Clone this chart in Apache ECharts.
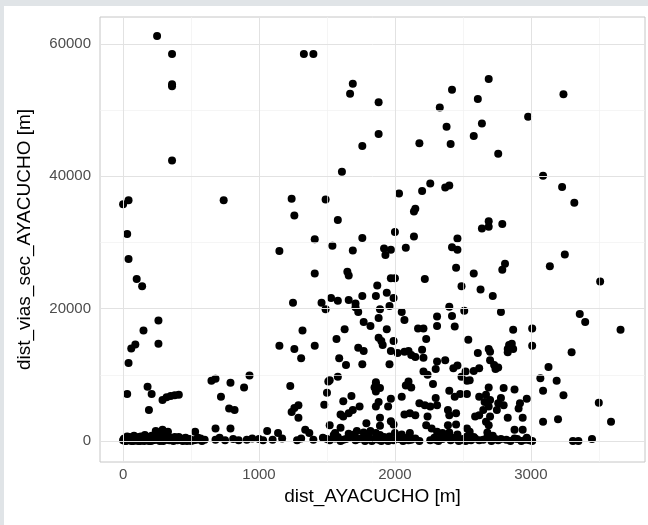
<!DOCTYPE html>
<html><head><meta charset="utf-8">
<script src="https://cdn.jsdelivr.net/npm/echarts@6/dist/echarts.min.js"></script>
<style>
html,body{margin:0;padding:0;background:#e0e4e7;width:648px;height:525px;overflow:hidden}
#chart{position:absolute;left:4px;top:6px;width:644px;height:519px;background:#fff}
</style></head><body><div id="chart"></div>
<script>
const xTicks = [0, 1000, 2000, 3000];
const xMinor = [500, 1500, 2500, 3500];
const yTicks = [0, 20000, 40000, 60000];
const yMinor = [10000, 30000, 50000];

const ptsUnder1000 = [
[250,61200],[360,58500],[360,53900],[360,53600],[360,42400],[0,35800],[40,36400],[740,36400],[30,31300],[40,27500],
[100,24500],[140,23400],[260,18200],[150,16700],[60,14000],[90,14600],[260,14700],[40,11800],[30,7100],[180,8200],
[210,7100],[190,4700],[290,6200],[320,6600],[350,6800],[380,6900],[410,7000],[650,9100],[680,9400],[790,8800],
[930,9900],[890,8100],[720,6700],[780,4900],[820,4700],[680,1900],[790,1900],[530,1400],[240,1500],[290,1700],[330,1400],
[0,100],[10,400],[20,0],[30,700],[40,200],[50,500],[60,0],[70,300],[80,800],[90,100],[100,500],[110,0],[120,300],
[130,700],[140,100],[150,400],[160,900],[170,200],[180,600],[190,0],[200,300],[210,800],[220,100],[240,500],[250,200],
[260,1000],[270,0],[280,400],[290,800],[300,100],[310,600],[330,200],[350,500],[370,0],[390,300],[410,600],[430,100],
[450,400],[470,0],[490,300],[520,100],[550,500],[580,0],[600,200],[680,200],[710,500],[750,100],[810,300],[850,100],
[910,200],[950,400],
[5,300],[15,0],[25,500],[35,100],[45,600],[55,300],[65,100],[75,0],[85,500],[95,300],[105,200],[115,600],[125,0],
[135,400],[145,200],[155,0],[165,600],[175,300],[185,100],[195,500],[205,0],[215,400],[230,200],[245,900],[265,600],
[275,1200],[285,200],[295,0],[305,300],[320,500],[340,100],[360,300],[380,600],[400,100],[420,400],[440,0],[460,500],
[480,200],[500,0],[540,200],[570,400]
];

const pts1000to2000 = [
[1330,58500],[1400,58500],[1240,36600],[1260,34100],[1490,36500],[1410,30500],[1690,54000],[1670,52500],[1880,51200],
[1880,46400],[1760,44600],[1610,40700],[1580,33400],[1760,30700],[1540,29500],[1150,28700],[1690,28800],[1920,29100],
[1930,28100],[1970,28900],[1410,25300],[1650,25600],[1660,25000],[1970,24600],[1870,23500],[1250,20900],[1460,20900],
[1490,19900],[1530,21600],[1580,21200],[1660,21300],[1760,21900],[1860,21900],[1940,22400],[1990,21600],[1710,20800],
[1710,20200],[1730,19500],[1960,20400],[1890,19900],[1880,18600],[1770,18000],[1820,17400],[1630,16900],[1940,16900],
[1320,16700],[1150,14400],[1260,13900],[1310,12500],[1410,14400],[1570,15400],[1880,15600],[1900,15100],[1990,15100],
[1730,14100],[1770,13600],[1910,14500],[1590,12500],[1640,11500],[1760,11600],[1960,11600],[1970,13600],[1580,9700],
[1520,9200],[1860,8600],[1850,8100],[1890,8000],[1860,7500],[1970,6400],[1620,6000],[1680,6800],[1860,5200],[1880,5900],
[1950,5200],[1740,5200],[1690,4700],[1660,4200],[1600,4000],[1620,3700],[1890,3500],[1970,3000],[1990,2500],[1790,2700],
[1600,2000],[1520,2400],[1890,2300],[1770,1300],[1820,1500],[1860,1200],[1140,1200],[1060,1500],[1230,8300],[1500,7300],
[1480,5500],[1240,4400],[1290,5400],[1260,5000],[1290,3500],[1510,9000],[1340,1700],[1370,1200],[1560,1200],[1860,8900],
[1000,300],[1030,100],[1100,200],[1170,400],[1280,100],[1310,400],[1400,200],[1470,500],[1520,100],[1560,400],[1600,0],
[1640,300],[1680,700],[1710,100],[1750,400],[1780,0],[1810,600],[1840,200],[1870,400],[1900,0],[1930,300],[1960,700],
[1990,100],[1550,900],[1700,1000],[1890,900],
[1500,300],[1580,600],[1620,200],[1660,500],[1730,300],[1790,800],[1830,0],[1880,200],[1920,600],[1950,0],[1720,1500],
[1800,1000],[1660,1100]
];

const pts2000to3000 = [
[2000,31600],[2000,24600],[2690,54700],[2420,53100],[2610,51700],[2330,50400],[2380,47500],[2640,48000],[2580,46100],
[2180,45000],[2410,44900],[2760,43400],[2980,49000],[2030,37400],[2200,37800],[2260,38900],[2370,38300],[2400,38600],
[2150,35100],[2140,34700],[2140,30900],[2460,30600],[2690,33200],[2640,32100],[2690,32400],[2790,32800],[2080,29200],
[2420,29300],[2460,28900],[2450,26200],[2220,24500],[2490,23400],[2050,19500],[2070,18300],[2400,20300],[2510,19700],
[2310,18800],[2420,18900],[2310,17400],[2440,17300],[2170,17000],[2210,17000],[2230,15400],[2540,15300],[2810,26800],
[2790,25900],[2720,21900],[2630,22900],[2580,25300],[2870,16800],[2780,19500],[2860,14700],[2830,13900],[2020,13300],
[2070,13500],[2100,13600],[2120,13000],[2150,12700],[2200,13800],[2210,12600],[2310,12000],[2370,12200],[2430,11000],
[2460,11400],[2210,10500],[2240,10000],[2300,10900],[2490,9700],[2520,10500],[2530,9100],[2100,9000],[2080,8400],
[2120,8100],[2280,8600],[2400,7600],[2440,6700],[2480,7100],[2050,6700],[2180,5700],[2220,5400],[2260,5200],[2300,6500],
[2310,5400],[2390,4700],[2400,3900],[2450,4200],[2070,4000],[2110,4200],[2150,3900],[2240,3700],[2390,2400],[2450,2500],
[2230,2400],[2270,1900],[2530,1900],[2000,1200],[2050,1000],[2110,1200],[2310,1400],[2350,1200],[2400,1300],[2460,1000],
[2610,13300],[2690,13900],[2700,13500],[2830,13400],[2870,13900],[2840,14500],[2700,12200],[2730,11500],[2760,11100],
[2740,10900],[2580,10600],[2620,11000],[2550,9200],[2690,8100],[2800,8000],[2880,7800],[2530,7100],[2620,6700],[2670,7000],
[2660,5900],[2700,6200],[2780,6500],[2760,5700],[2800,5400],[2970,6400],[2920,5700],[2910,4900],[2650,4700],[2690,5200],
[2700,3700],[2750,4700],[2590,3700],[2620,3900],[2830,3500],[2940,3500],[2670,2900],[2690,2400],[2550,1400],[2880,1700],
[2940,1700],[2680,1300],
[2030,300],[2060,0],[2090,500],[2120,200],[2150,400],[2260,100],[2290,500],[2320,0],[2350,300],[2380,600],[2410,100],
[2440,400],[2470,0],[2500,300],[2530,700],[2560,100],[2590,400],[2650,200],[2680,600],[2710,0],[2740,300],[2760,100],
[2820,200],[2900,300],[2930,0],[2960,200],[2990,100],
[2040,700],[2100,100],[2180,0],[2300,200],[2340,800],[2420,500],[2480,200],[2520,0],[2580,600],[2620,100],[2700,400],
[2720,800],[2780,300],[2850,0],[2880,400],[2970,500]
];

const ptsOver3000 = [
[3240,52400],[3090,40100],[3230,38400],[3320,36000],[3250,28200],[3140,26400],[3510,24100],[3360,19200],[3400,18000],
[3660,16800],[3300,13400],[3130,11200],[3070,9500],[3090,7600],[3190,9100],[3240,6900],[3500,5800],[3090,2900],[3200,3300],
[3590,2900],[3310,0],[3350,0],[3450,300],[3010,17000],[3010,14400],[3010,0]
];

const allPoints = [].concat(ptsUnder1000, pts1000to2000, pts2000to3000, ptsOver3000);

const majorStyle = {color: '#e2e2e2', width: 1, type: 'solid'};
const minorStyle = {color: '#f1f1f1', width: 0.7, type: 'solid'};
const gridLines = [].concat(
  xMinor.map(v => ({xAxis: v, lineStyle: minorStyle})),
  yMinor.map(v => ({yAxis: v, lineStyle: minorStyle})),
  xTicks.map(v => ({xAxis: v, lineStyle: majorStyle})),
  yTicks.map(v => ({yAxis: v, lineStyle: majorStyle}))
);

const font = "'Liberation Sans', Arial, sans-serif";
const plain = v => String(v);
const chart = echarts.init(document.getElementById('chart'), null, {renderer: 'canvas'});
chart.setOption({
  animation: false,
  grid: {left: 96, top: 11, right: 3, bottom: 63, show: true, borderColor: '#c6c6c6', borderWidth: 1, backgroundColor: '#fff'},
  xAxis: {
    type: 'value', min: -170, max: 3840,
    name: 'dist_AYACUCHO [m]', nameLocation: 'middle', nameGap: 25,
    nameTextStyle: {fontSize: 19, color: '#000', fontFamily: font},
    axisLine: {show: false},
    axisTick: {show: true, length: 4, customValues: xTicks, lineStyle: {color: '#b3b3b3'}},
    axisLabel: {customValues: xTicks, formatter: plain, color: '#4d4d4d', fontSize: 15, margin: 5, fontFamily: font},
    splitLine: {show: false}
  },
  yAxis: {
    type: 'value', min: -3170, max: 64080,
    name: 'dist_vias_sec_AYACUCHO [m]', nameLocation: 'middle', nameGap: 66, nameRotate: 90,
    nameTextStyle: {fontSize: 19, color: '#000', fontFamily: font},
    axisLine: {show: false},
    axisTick: {show: true, length: 4, customValues: yTicks, lineStyle: {color: '#b3b3b3'}},
    axisLabel: {customValues: yTicks, formatter: plain, color: '#4d4d4d', fontSize: 15, margin: 9, fontFamily: font},
    splitLine: {show: false}
  },
  series: [
    {type: 'scatter', data: [], z: 1, silent: true,
     markLine: {silent: true, symbol: 'none', label: {show: false}, animation: false, data: gridLines}},
    {type: 'scatter', data: allPoints, symbolSize: 8, z: 3,
     itemStyle: {color: '#000', opacity: 1}}
  ]
});
</script></body></html>
